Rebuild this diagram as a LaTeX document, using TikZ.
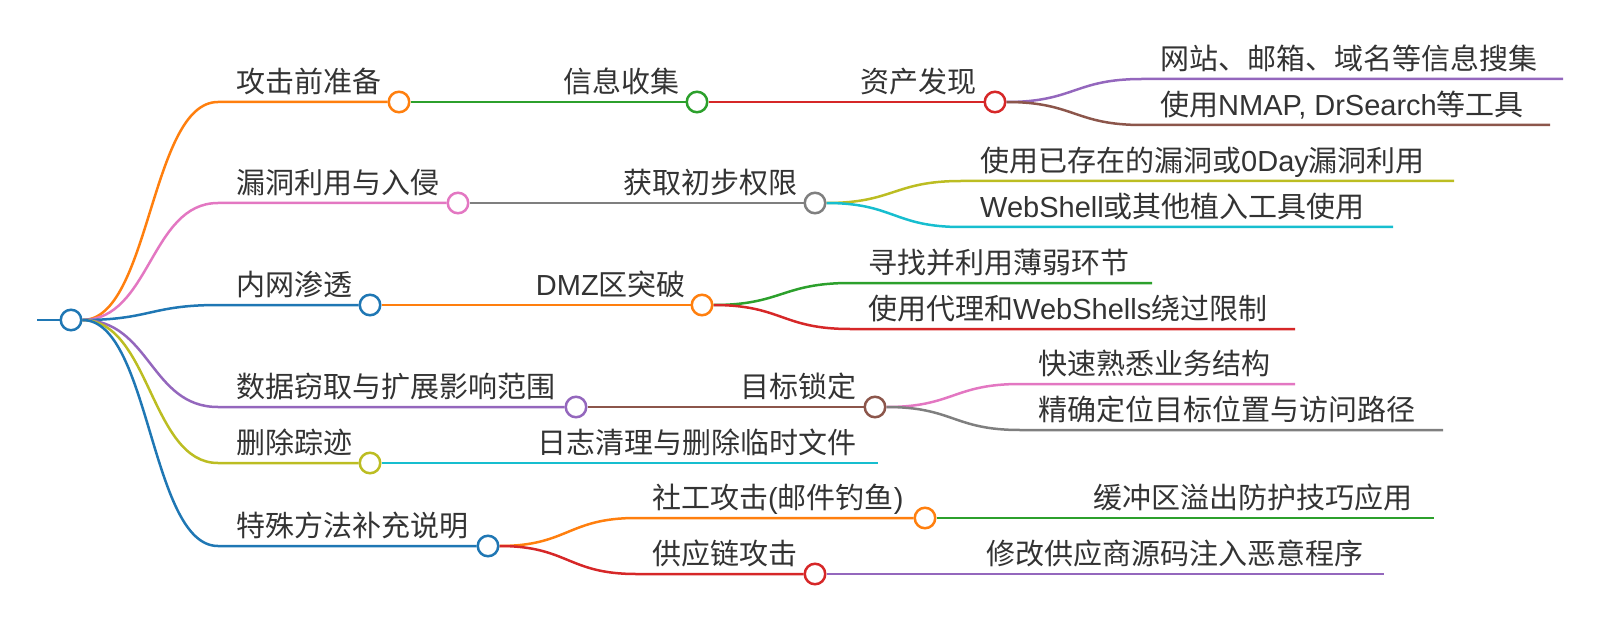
\documentclass[tikz,border=0pt]{standalone}
\usepackage{fontspec}
\setmainfont{Noto Sans CJK SC}
\newfontfamily\lat{Liberation Sans}
\usetikzlibrary{calc}
\definecolor{cOr}{HTML}{FF7F0E}
\definecolor{cGr}{HTML}{2CA02C}
\definecolor{cRe}{HTML}{D62728}
\definecolor{cPu}{HTML}{9467BD}
\definecolor{cBr}{HTML}{8C564B}
\definecolor{cPi}{HTML}{E377C2}
\definecolor{cGy}{HTML}{7F7F7F}
\definecolor{cOl}{HTML}{BCBD22}
\definecolor{cCy}{HTML}{17BECF}
\definecolor{cBl}{HTML}{1F77B4}
\definecolor{txt}{HTML}{333333}
\pgfdeclarelayer{bg}
\pgfsetlayers{bg,main}
\tikzset{
  dot/.style={circle,draw=#1,fill=white,line width=2.5pt,minimum size=20.5pt,inner sep=0pt},
  lbl/.style={anchor=base west,inner sep=0pt,text=txt,font=\fontsize{29}{34}\selectfont},
  lblr/.style={lbl,anchor=base east},
  edge/.style={line width=2.5pt,draw=#1},
}
\newcommand\mlink[4]{%
  \draw[edge=#1] let \p1=(#2),\p2=(#3) in (\p1) .. controls ({(\x1+\x2)/2},\y1) and ({(\x1+\x2)/2},\y2) .. (\p2) -- (#4);}
\begin{document}
\begin{tikzpicture}[x=1pt,y=-1pt]
\useasboundingbox (0,0) rectangle (1600,636);
% circles
\node[dot=cBl] (root) at (71,320) {};
\node[dot=cOr] (a1) at (399,102) {};
\node[dot=cPi] (a2) at (458,203) {};
\node[dot=cBl] (a3) at (370,305) {};
\node[dot=cPu] (a4) at (576,407) {};
\node[dot=cOl] (a5) at (370,463) {};
\node[dot=cBl] (a6) at (488,546) {};
\node[dot=cGr] (b1) at (697,102) {};
\node[dot=cRe] (b2) at (995,102) {};
\node[dot=cGy] (b3) at (815,203) {};
\node[dot=cOr] (b4) at (702,305) {};
\node[dot=cBr] (b5) at (875,407) {};
\coordinate (b6) at (878,463);
\node[dot=cOr] (b7) at (925,518) {};
\node[dot=cRe] (b8) at (815,574) {};
% curve ends and leaf ends
\coordinate (rs) at (37,320);
\foreach \n/\y in {a1/102,a2/203,a3/305,a4/407,a5/463,a6/546}{\coordinate (\n s) at (218,\y);}
\coordinate (b7s) at (636,518);
\coordinate (b8s) at (636,574);
\coordinate (c1s) at (1142,79);   \coordinate (c1) at (1563,79);
\coordinate (c2s) at (1142,125);  \coordinate (c2) at (1550,125);
\coordinate (c3s) at (961,181);   \coordinate (c3) at (1454,181);
\coordinate (c4s) at (961,227);   \coordinate (c4) at (1393,227);
\coordinate (c5s) at (850,283);   \coordinate (c5) at (1152,283);
\coordinate (c6s) at (850,329);   \coordinate (c6) at (1295,329);
\coordinate (c7s) at (1020,384);  \coordinate (c7) at (1295,384);
\coordinate (c8s) at (1020,430);  \coordinate (c8) at (1443,430);
\coordinate (c9) at (1434,518);
\coordinate (c10) at (1384,574);
% texts
\node[lbl] (ta1) at (236,92.5) {攻击前准备};
\node[lbl] (ta2) at (236,193.5) {漏洞利用与入侵};
\node[lbl] (ta3) at (236,295.5) {内网渗透};
\node[lbl] (ta4) at (236,397.5) {数据窃取与扩展影响范围};
\node[lbl] (ta5) at (236,453.5) {删除踪迹};
\node[lbl] (ta6) at (236,536.5) {特殊方法补充说明};
\node[lblr] (tb1) at (680,92.5) {信息收集};
\node[lblr] (tb2) at (977,92.5) {资产发现};
\node[lblr] (tb3) at (798,193.5) {获取初步权限};
\node[lblr] (tb4) at (686,295.5) {{\lat DMZ}区突破};
\node[lblr] (tb5) at (857,397.5) {目标锁定};
\node[lblr] (tb6) at (857,453.5) {日志清理与删除临时文件};
\node[lbl] (tb7) at (652,508.5) {社工攻击{\lat (}邮件钓鱼{\lat )}};
\node[lbl] (tb8) at (652,564.5) {供应链攻击};
\node[lbl] (tc1) at (1160,69.5) {网站、邮箱、域名等信息搜集};
\node[lbl] (tc2) at (1160,115.5) {使用{\lat NMAP, DrSearch}等工具};
\node[lbl] (tc3) at (980,171.5) {使用已存在的漏洞或{\lat 0Day}漏洞利用};
\node[lbl] (tc4) at (980,217.5) {{\lat WebShell}或其他植入工具使用};
\node[lbl] (tc5) at (868,273.5) {寻找并利用薄弱环节};
\node[lbl] (tc6) at (868,319.5) {使用代理和{\lat WebShells}绕过限制};
\node[lbl] (tc7) at (1038,374.5) {快速熟悉业务结构};
\node[lbl] (tc8) at (1038,420.5) {精确定位目标位置与访问路径};
\node[lblr] (tc9) at (1413,508.5) {缓冲区溢出防护技巧应用};
\node[lblr] (tc10) at (1364,564.5) {修改供应商源码注入恶意程序};
% edges
\begin{pgfonlayer}{bg}
\draw[edge=cBl] (rs) -- (root);
\mlink{cOr}{root.east}{a1s}{a1}
\mlink{cPi}{root.east}{a2s}{a2}
\mlink{cBl}{root.east}{a3s}{a3}
\mlink{cPu}{root.east}{a4s}{a4}
\mlink{cOl}{root.east}{a5s}{a5}
\mlink{cBl}{root.east}{a6s}{a6}
\draw[edge=cGr] (a1) -- (b1);
\draw[edge=cRe] (b1) -- (b2);
\draw[edge=cGy] (a2) -- (b3);
\draw[edge=cOr] (a3) -- (b4);
\draw[edge=cBr] (a4) -- (b5);
\draw[edge=cCy] (a5) -- (b6);
\mlink{cOr}{a6.east}{b7s}{b7}
\mlink{cRe}{a6.east}{b8s}{b8}
\mlink{cPu}{b2.east}{c1s}{c1}
\mlink{cBr}{b2.east}{c2s}{c2}
\mlink{cOl}{b3.east}{c3s}{c3}
\mlink{cCy}{b3.east}{c4s}{c4}
\mlink{cGr}{b4.east}{c5s}{c5}
\mlink{cRe}{b4.east}{c6s}{c6}
\mlink{cPi}{b5.east}{c7s}{c7}
\mlink{cGy}{b5.east}{c8s}{c8}
\draw[edge=cGr] (b7) -- (c9);
\draw[edge=cPu] (b8) -- (c10);
\end{pgfonlayer}
\end{tikzpicture}
\end{document}
